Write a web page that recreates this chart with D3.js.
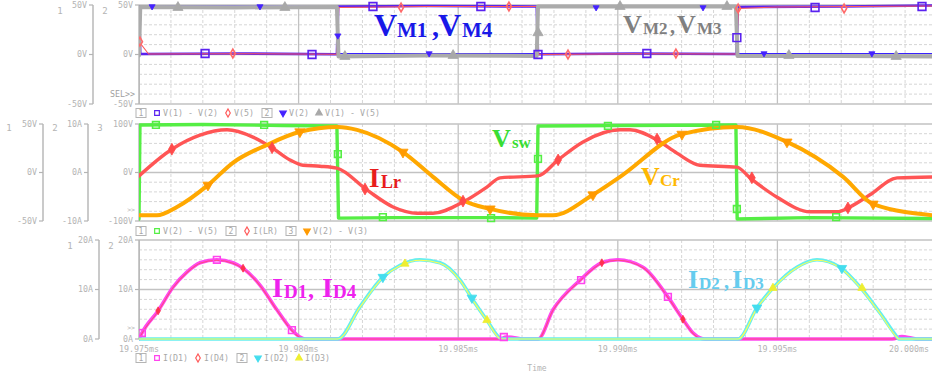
<!DOCTYPE html>
<html>
<head>
<meta charset="utf-8">
<script src="https://cdn.jsdelivr.net/npm/d3@7"></script>
<style>
  body { margin: 0; background: #fff; }
  text { font-family: 'DejaVu Sans Mono', monospace; }
</style>
</head>
<body>
<svg id="chart" width="932" height="376"></svg>
<script>
// time is in microseconds after 19.975ms
const tickTimes = [0, 5, 10, 15, 20, 25];
const tickLabels = ["19.975ms", "19.980ms", "19.985ms", "19.990ms", "19.995ms", "20.000ms"];

// ---- top plot (volts)
const v12 = [[0,48],[0.04,0.5],[3,1],[6.2,0.3],[6.24,48.5],[9,49],[12.46,48.5],[12.5,0.2],[15.5,1],[18.72,0.5],[18.76,48],[22,48.5],[25,49.5]];
const v5 = [[0,13],[0.3,0.5],[3,0.8],[6.2,0.3],[6.26,47.5],[9,48.5],[12.46,48.5],[12.52,0],[15.5,0.8],[18.72,0.5],[18.78,46.5],[20,48],[25,49]];
const v2 = [[0,49],[3,49],[6.2,48.5],[6.25,1],[9,1],[12.46,1],[12.5,48],[15,47.5],[18.7,47.5],[18.75,1],[22,1],[25,1]];
const v15 = [[0,-1],[0.04,48],[3,47.5],[6.2,48],[6.25,-2],[9,-1],[12.46,-1.5],[12.5,48.5],[15,48.5],[18.7,48.5],[18.75,-1.5],[22,-1.5],[25,-2]];

const mkV12 = [[2.07,1],[5.42,0],[7.33,48.5],[10.71,48.5],[12.5,0],[15.91,1],[18.73,17],[21.18,47.5],[24.53,48.5]];
const mkV5 = [[0.03,13],[2.94,1],[8.21,47.5],[11.59,48.5],[13.44,0],[16.82,1],[18.77,46.5],[22.09,46.5]];
const mkV2 = [[0.41,48.5],[3.79,48.5],[6.23,19],[9.09,1],[14.32,47.5],[17.67,47.5],[19.58,1],[22.96,1]];
const mkV15 = [[1.22,47.5],[4.57,47.5],[6.45,-2],[9.84,-1],[12.5,22],[15.07,48.5],[18.42,48.5],[20.36,-1],[23.72,-2]];

// ---- middle plot: Vsw (V), I(LR) (A), Vcr (V)
const vsw = [[0,-48],[0.03,49],[2,49.5],[4.5,48.5],[6.2,48],[6.25,-47],[8,-46.5],[11,-46.5],[12.46,-47],[12.5,48],[15,48.5],[18.7,49],[18.74,-48],[21,-46.5],[25,-47.5]];
const iLr = [[0,-0.7],[1.03,4.8],[1.91,7.7],[2.76,8.8],[3.57,7.3],[4.17,5.1],[4.73,2.6],[5.14,1.5],[5.67,1.3],[6.2,0.9],
  [7.14,-3.6],[7.96,-7.1],[8.71,-8.4],[9.21,-8.4],[10.15,-6.1],[10.9,-3.0],[11.31,-1.1],[12.5,-0.7],
  [13.13,2.6],[13.91,6.3],[15.07,8.8],[15.38,8.8],[16.23,6.7],[16.85,4.0],[17.57,1.5],[18.73,1.1],
  [19.14,-1.1],[19.99,-5.1],[21.02,-8.1],[21.87,-8.1],[22.27,-7.1],[22.9,-4.6],[23.75,-1.1],[25,-0.9]];
const vCr = [[0,-88],[0.56,-88],[1.19,-71],[2.16,-26],[2.94,20],[4.01,57],[5.04,84],[6.23,94],[6.83,88],
  [8.27,42],[9.21,-9],[10.15,-57],[11.0,-75],[12.5,-88],[12.97,-88],[14.22,-46],[15.07,-9],
  [17.0,79],[18.73,94],[20.3,63],[22.06,-9],[23.0,-65],[25,-89]];

const mkVsw = [[0.53,49],[3.92,49],[6.23,19],[7.64,-46],[11.03,-47],[12.5,14],[14.69,48],[18.08,49],[18.73,-37.6],[21.84,-46]];
const mkILr = [[1.03,4.8],[4.17,5.1],[7.08,-3.4],[10.15,-5.9],[13.13,2.6],[16.23,6.9],[19.2,-1.1],[22.21,-7.3]];
const mkVCr = [[2.16,-26],[5.04,84],[8.27,42],[11.0,-75],[14.22,-46],[17.01,79],[20.3,63],[23.0,-65]];

// ---- bottom plot (amps)
const iD1 = [[0,0],[0.09,1.2],[0.6,5.7],[1.07,10.5],[1.5,13.5],[1.91,15.4],[2.44,16.0],[2.94,15.4],[3.26,14.3],
  [3.79,10.9],[4.32,5.9],[4.79,1.8],[5.04,0.4],[5.2,0],[11.3,0],[11.5,0.4],[11.9,0.1],[12.0,0],
  [12.5,0],[12.97,5.9],[13.82,11.9],[14.5,15.4],[15.0,16.0],[15.79,14.5],[16.57,8.5],[17.04,4.0],
  [17.36,1.2],[17.58,0.2],[17.73,0],[23.6,0],[23.9,0.5],[24.2,0.2],[24.4,0],[25,0]];
const iD4 = [[0,0],[0.09,1.1],[0.6,5.6],[1.07,10.4],[1.5,13.4],[1.91,15.3],[2.44,15.9],[2.94,15.3],[3.26,14.2],
  [3.79,10.8],[4.32,5.8],[4.79,1.7],[5.04,0.3],[5.2,0],[12.5,0],[12.97,5.8],[13.82,11.8],[14.5,15.3],
  [15.0,15.9],[15.79,14.4],[16.57,8.4],[17.04,3.9],[17.36,1.1],[17.58,0.1],[17.73,0],[25,0]];
const iD2 = [[0,0],[6.23,0],[6.92,6.5],[7.64,12.5],[8.18,14.9],[8.8,16.0],[9.43,15.4],[10.06,11.9],[10.46,7.9],
  [10.9,3.8],[11.31,0.2],[11.4,0],[18.77,0],[19.36,6.3],[19.86,10.3],[20.61,14.5],[21.24,16.0],
  [21.96,14.5],[22.59,10.5],[23.21,5.3],[23.75,0.4],[23.8,0],[25,0]];
const iD3 = [[0,0],[6.23,0],[6.92,6.4],[7.64,12.4],[8.18,14.8],[8.8,15.9],[9.43,15.3],[10.06,11.8],[10.46,7.8],
  [10.9,3.7],[11.31,0.1],[11.4,0],[18.77,0],[19.36,6.2],[19.86,10.2],[20.61,14.4],[21.24,15.9],
  [21.96,14.4],[22.59,10.4],[23.21,5.2],[23.75,0.3],[23.8,0],[25,0]];

const mkD1 = [[0.09,1.2],[2.44,16],[4.79,1.8],[11.43,0.4],[13.85,11.9],[16.57,8.5]];
const mkD4 = [[0.6,5.7],[3.26,14.3],[14.5,15.4],[17.04,4.0]];
const mkD2 = [[7.64,12.5],[10.43,8.3],[19.36,6.3],[22.02,14.3]];
const mkD3 = [[8.33,15.2],[10.9,3.8],[19.86,10.3],[22.65,10.3]];

const W = 932, H = 376;
const svg = d3.select("#chart");
const AX = "#b4b4b4";

const x = d3.scaleLinear().domain([0, 25]).range([139, 937]);

// y scales
const yTop = d3.scaleLinear().domain([-50, 50]).range([104, 5]);
const yMid1 = d3.scaleLinear().domain([-50, 50]).range([221, 124]);
const yMid2 = d3.scaleLinear().domain([-10, 10]).range([221, 124]);
const yMid3 = d3.scaleLinear().domain([-100, 100]).range([221, 124]);
const yBot = d3.scaleLinear().domain([0, 20]).range([339, 240]);

svg.append("defs").append("clipPath").attr("id", "clip")
  .append("rect").attr("x", 139).attr("y", 0).attr("width", W - 139).attr("height", H);

function drawGrid(yScale, minorTicks, majorVal) {
  const g = svg.append("g").attr("clip-path", "url(#clip)");
  const [y0, y1] = [yScale.range()[1], yScale.range()[0]];
  // minor verticals each microsecond, major each 5
  x.ticks(25).forEach(t => {
    const major = t % 5 === 0;
    g.append("line")
      .attr("x1", x(t)).attr("x2", x(t))
      .attr("y1", y0).attr("y2", y1)
      .style("stroke", major ? "#c2c2c2" : "#d6d6d6")
      .style("stroke-width", major ? 1.3 : 1)
      .style("stroke-dasharray", major ? null : "3 2");
  });
  minorTicks.forEach(v => {
    const major = v === majorVal;
    g.append("line")
      .attr("x1", 139).attr("x2", W)
      .attr("y1", yScale(v)).attr("y2", yScale(v))
      .style("stroke", major ? "#c2c2c2" : "#d6d6d6")
      .style("stroke-width", major ? 1.3 : 1)
      .style("stroke-dasharray", major ? null : "3 2");
  });
  // frame
  g.append("rect")
    .attr("x", 139).attr("y", y0)
    .attr("width", 800).attr("height", y1 - y0)
    .style("fill", "none").style("stroke", "#c6c6c6").style("stroke-width", 1.6);
}

function drawAxis(xPos, yScale, vals, unit, num, numX, numY) {
  const g = svg.append("g");
  const [y0, y1] = [yScale.range()[1], yScale.range()[0]];
  g.append("line").attr("x1", xPos).attr("x2", xPos).attr("y1", y0).attr("y2", y1)
    .style("stroke", AX).style("stroke-width", 1.4);
  vals.forEach(v => {
    g.append("line").attr("x1", xPos - 4).attr("x2", xPos).attr("y1", yScale(v)).attr("y2", yScale(v))
      .style("stroke", AX).style("stroke-width", 1.2);
    g.append("text").attr("x", xPos - 6).attr("y", yScale(v)).attr("dy", "0.35em")
      .attr("text-anchor", "end").style("font-size", "8.3px").style("fill", AX)
      .text(v + unit);
  });
  g.append("text").attr("x", numX).attr("y", numY).attr("dy", "0.35em")
    .attr("text-anchor", "middle").style("font-size", "9px").style("fill", AX).text(num);
}

function drawLine(data, yScale, color, width, curve) {
  svg.append("path").datum(data)
    .attr("clip-path", "url(#clip)")
    .attr("d", d3.line().x(d => x(d[0])).y(d => yScale(d[1])).curve(curve || d3.curveLinear))
    .style("fill", "none").style("stroke", color).style("stroke-width", width)
    .style("stroke-linejoin", "round").style("stroke-linecap", "round");
}

const shapes = {
  square: d3.symbolSquare, diamond: d3.symbolDiamond, up: d3.symbolTriangle, down: d3.symbolTriangle
};

function drawMarkers(pts, yScale, shape, color, size, filled) {
  svg.append("g").attr("clip-path", "url(#clip)")
    .selectAll("path").data(pts).join("path")
    .attr("d", d3.symbol().type(shapes[shape]).size(size))
    .attr("transform", d => `translate(${x(d[0])},${yScale(d[1])})` + (shape === "down" ? " rotate(180)" : ""))
    .style("fill", filled ? color : "none")
    .style("stroke", color).style("stroke-width", filled ? 0.8 : 1.6);
}

// legend row: items are either {box: "1"} or {shape, color, label}
function drawLegend(y, items) {
  let cx = 136;
  const g = svg.append("g");
  items.forEach(it => {
    if (it.box) {
      g.append("rect").attr("x", cx).attr("y", y - 4.5).attr("width", 10).attr("height", 9)
        .style("fill", "none").style("stroke", AX).style("stroke-width", 1);
      g.append("text").attr("x", cx + 5).attr("y", y).attr("dy", "0.35em").attr("text-anchor", "middle")
        .style("font-size", "8px").style("fill", "#a8a8a8").text(it.box);
      cx += 19;
    } else {
      g.append("path").attr("d", d3.symbol().type(shapes[it.shape]).size(it.shape === "square" ? 22 : 18))
        .attr("transform", `translate(${cx + 2},${y})` + (it.shape === "down" ? " rotate(180)" : ""))
        .style("stroke", it.color).style("stroke-width", 1.2)
        .style("fill", it.shape === "square" || it.shape === "diamond" ? "none" : it.color);
      g.append("text").attr("x", cx + 8).attr("y", y).attr("dy", "0.35em")
        .style("font-size", "8.3px").style("fill", "#a8a8a8").text(it.label);
      cx += 8 + it.label.length * 5 + 8;
    }
  });
}

// ---------- grids
drawGrid(yTop, d3.range(-40, 50, 10), 0);
drawGrid(yMid3, d3.range(-80, 100, 20), 0);
drawGrid(yBot, d3.range(2, 20, 2), 10);

// ---------- axes
drawAxis(93, yTop, [50, 0, -50], "V", "1", 60, 11);
drawAxis(139, yTop, [50, 0, -50], "V", "2", 105, 11);
drawAxis(43, yMid1, [50, 0, -50], "V", "1", 9, 128);
drawAxis(88, yMid2, [10, 0, -10], "A", "2", 55, 128);
drawAxis(139, yMid3, [100, 0, -100], "V", "3", 100, 128);
drawAxis(99, yBot, [20, 10, 0], "A", "1", 70, 246);
drawAxis(139, yBot, [20, 10, 0], "A", "2", 111, 246);

svg.append("text").attr("x", 135).attr("y", 94).attr("dy", "0.35em").attr("text-anchor", "end")
  .style("font-size", "8.3px").style("fill", "#a0a0a0").text("SEL>>");
[210, 328].forEach(yy => {
  svg.append("text").attr("x", 135).attr("y", yy).attr("dy", "0.35em").attr("text-anchor", "end")
    .style("font-size", "6.5px").style("fill", "#b0b0b0").text(">>");
});

// ---------- traces, top
drawLine(v12, yTop, "#5a22f0", 2.6);
drawLine(v5, yTop, "#ff5a5a", 1.1);
drawLine(v2, yTop, "#3a22ff", 1.2);
drawLine(v15, yTop, "#ababab", 4);
drawMarkers(mkV12, yTop, "square", "#5a22f0", 60, false);
drawMarkers(mkV5, yTop, "diamond", "#ff6a6a", 22, false);
drawMarkers(mkV2, yTop, "down", "#4422ff", 16, true);
drawMarkers(mkV15, yTop, "up", "#a8a8a8", 45, true);

// ---------- traces, middle
drawLine(vsw, yMid1, "#55ee44", 3.4);
drawLine(iLr, yMid2, "#ff5555", 3.4, d3.curveMonotoneX);
drawLine(vCr, yMid3, "#ffa800", 4, d3.curveMonotoneX);
drawMarkers(mkVsw, yMid1, "square", "#55ee44", 45, false);
drawMarkers(mkILr, yMid2, "diamond", "#ff4a4a", 40, true);
drawMarkers(mkVCr, yMid3, "down", "#ff9a00", 45, true);

// ---------- traces, bottom
drawLine(iD1, yBot, "#ff48f0", 3.6, d3.curveMonotoneX);
drawLine(iD4, yBot, "#ff4a80", 1.1, d3.curveMonotoneX);
drawLine(iD2, yBot, "#66eef0", 3.6, d3.curveMonotoneX);
drawLine(iD3, yBot, "#ffff50", 1.1, d3.curveMonotoneX);
drawMarkers(mkD1, yBot, "square", "#ff44ee", 45, false);
drawMarkers(mkD4, yBot, "diamond", "#ff3050", 18, true);
drawMarkers(mkD2, yBot, "down", "#44ddee", 40, true);
drawMarkers(mkD3, yBot, "up", "#eeee30", 30, true);

// ---------- time axis labels
tickTimes.forEach((t, i) => {
  const last = i === tickTimes.length - 1;
  svg.append("text").attr("x", last ? 929 : x(t)).attr("y", 349).attr("dy", "0.35em")
    .attr("text-anchor", last ? "end" : "middle")
    .style("font-size", "8.3px").style("fill", AX).text(tickLabels[i]);
});
svg.append("text").attr("x", 537).attr("y", 368).attr("dy", "0.35em").attr("text-anchor", "middle")
  .style("font-size", "8px").style("fill", AX).text("Time");

// ---------- legends
drawLegend(113, [{box: "1"}, {shape: "square", color: "#5a22f0", label: "V(1) - V(2)"},
  {shape: "diamond", color: "#ff5a5a", label: "V(5)"}, {box: "2"},
  {shape: "down", color: "#4422ff", label: "V(2)"}, {shape: "up", color: "#a8a8a8", label: "V(1) - V(5)"}]);
drawLegend(231, [{box: "1"}, {shape: "square", color: "#55ee44", label: "V(2) - V(5)"}, {box: "2"},
  {shape: "diamond", color: "#ff5a5a", label: "I(LR)"}, {box: "3"},
  {shape: "down", color: "#ff9a00", label: "V(2) - V(3)"}]);
drawLegend(358, [{box: "1"}, {shape: "square", color: "#ff44ee", label: "I(D1)"},
  {shape: "diamond", color: "#ff5a5a", label: "I(D4)"}, {box: "2"},
  {shape: "down", color: "#44ddee", label: "I(D2)"}, {shape: "up", color: "#eeee30", label: "I(D3)"}]);

// ---------- annotations
function annotate(parts, color, baseY) {
  const t = svg.append("text").style("font-family", "'Liberation Serif', 'Times New Roman', serif")
    .style("font-weight", "bold").style("fill", color);
  parts.forEach(p => {
    t.append("tspan").attr("x", p[1]).attr("y", baseY + (p[3] || 0))
      .style("font-size", p[2] + "px").text(p[0]);
  });
}
annotate([["V", 374, 32], ["M1", 397, 21, 1], [",", 432, 28], ["V", 438, 32], ["M4", 462, 21, 1]], "#1818e8", 36);
annotate([["V", 623, 26], ["M2", 643, 17, 1], [",", 670, 20], ["V", 677, 26], ["M3", 697, 17, 1]], "#808080", 33);
annotate([["V", 492, 26], ["sw", 512, 17, 1]], "#39dd33", 147);
annotate([["I", 369, 27], ["Lr", 381, 18, 1]], "#e81c1c", 187);
annotate([["V", 641, 26], ["Cr", 660, 17, 1]], "#ffb800", 185);
annotate([["I", 272, 28], ["D1", 284, 19, 1], [",", 308, 24], ["I", 322, 28], ["D4", 333, 19, 1]], "#ee22ee", 297);
annotate([["I", 688, 26], ["D2", 699, 17, 1], [",", 724, 20], ["I", 732, 26], ["D3", 743, 17, 1]], "#66ccee", 288);
</script>
</body>
</html>
